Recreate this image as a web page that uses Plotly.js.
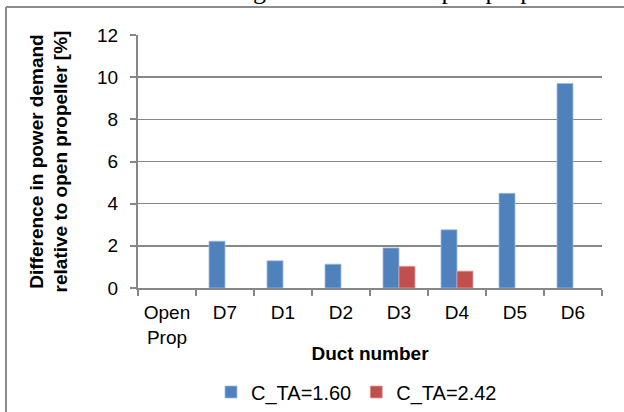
<!DOCTYPE html>
<html>
<head>
<meta charset="utf-8">
<script src="https://cdn.plot.ly/plotly-3.0.1.min.js"></script>
<style>
  html, body { margin: 0; padding: 0; background: #ffffff; }
  #chart { width: 624px; height: 412px; }
</style>
</head>
<body>
<div id="chart"></div>
<script>
// Duct configurations compared against the open propeller
const ducts = ['Open<br>Prop', 'D7', 'D1', 'D2', 'D3', 'D4', 'D5', 'D6'];

// Difference in power demand [%] for each thrust loading coefficient
const seriesNames = ['C_TA=1.60', 'C_TA=2.42'];
const ctaLow  = [null, 2.22, 1.29, 1.13, 1.90, 2.76, 4.49, 9.70];
const ctaHigh = [null, null, null, null, 1.03, 0.80, null, null];

const yTickVals = [0, 2, 4, 6, 8, 10, 12];

const gray = '#878787';
const sans = 'Liberation Sans, Arial, sans-serif';
const tickFont = { family: sans, size: 19, color: '#000000' };

const traces = [
  {
    type: 'bar', name: seriesNames[0], x: ducts, y: ctaLow,
    marker: { color: '#4F81BD', line: { color: 'rgba(160,190,230,0.8)', width: 1 } },
    hoverinfo: 'x+y'
  },
  {
    type: 'bar', name: seriesNames[1], x: ducts, y: ctaHigh,
    marker: { color: '#C0504D', line: { color: 'rgba(230,160,160,0.8)', width: 1 } },
    hoverinfo: 'x+y'
  }
];

// helpers to place page-pixel positions in paper coordinates
const M = { l: 138, r: 22, t: 35, b: 124, autoexpand: false };
const W = 624, H = 412;
const pw = W - M.l - M.r, ph = H - M.t - M.b;
const px = x => (x - M.l) / pw;
const py = y => (H - M.b - y) / ph;

const layout = {
  width: W, height: H,
  margin: M,
  paper_bgcolor: '#ffffff', plot_bgcolor: '#ffffff',
  barmode: 'group', bargap: 0.448, bargroupgap: 0,
  showlegend: true,
  legend: {
    orientation: 'h', x: px(211), xanchor: 'left', xref: 'paper',
    y: py(392), yanchor: 'middle',
    font: { family: sans, size: 20, color: '#000' }, itemwidth: 30, tracegroupgap: 0
  },
  xaxis: {
    type: 'category', automargin: false,
    showline: true, linecolor: gray, linewidth: 2,
    ticks: 'outside', tickson: 'boundaries', ticklen: 6, tickcolor: gray, tickwidth: 2,
    tickfont: tickFont, ticklabelstandoff: 6, showgrid: false, zeroline: false,
    title: { text: 'Duct number', font: { family: sans, size: 19, color: '#000', weight: 'bold' }, standoff: 0 }
  },
  yaxis: {
    range: [0, 12], tickvals: yTickVals, automargin: false,
    showline: true, linecolor: gray, linewidth: 2,
    ticks: 'outside', ticklen: 6, tickcolor: gray, tickwidth: 2,
    showgrid: true, gridcolor: gray, gridwidth: 1.5, zeroline: false,
    tickfont: tickFont, ticklabelstandoff: 8,
    title: {
      text: 'Difference in power demand<br>relative to open propeller [%]',
      font: { family: sans, size: 19, color: '#000', weight: 'bold' },
      standoff: 24
    }
  },
  annotations: [
    {
      // caption line of the surrounding text, running off the top of the page
      text: 'between the duct configuration and the open propeller.',
      xref: 'paper', yref: 'paper', x: px(586), xanchor: 'right',
      y: py(7.5), yanchor: 'bottom', showarrow: false,
      font: { family: 'Liberation Serif, Times New Roman, serif', size: 26, color: '#000' }
    }
  ],
  shapes: [
    { type: 'line', xref: 'paper', yref: 'paper', x0: px(6), x1: px(640), y0: py(7), y1: py(7), line: { color: '#8c8c8c', width: 2 } },
    { type: 'line', xref: 'paper', yref: 'paper', x0: px(6), x1: px(6), y0: py(7), y1: py(430), line: { color: '#8c8c8c', width: 2 } }
  ]
};

Plotly.newPlot('chart', traces, layout, { displayModeBar: false, staticPlot: true });
</script>
</body>
</html>
